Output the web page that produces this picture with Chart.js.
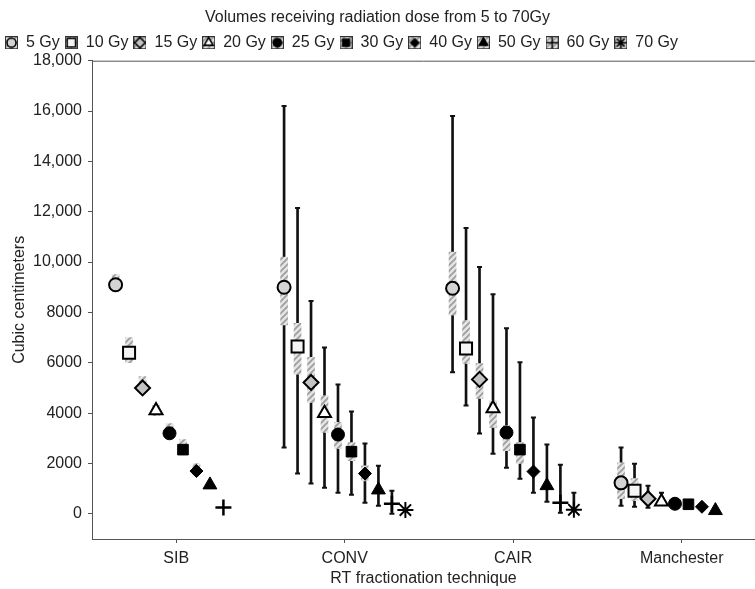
<!DOCTYPE html>
<html>
<head>
<meta charset="utf-8">
<script src="https://cdn.jsdelivr.net/npm/chart.js@4.4.0/dist/chart.umd.min.js"></script>
<style>
  html, body { margin: 0; padding: 0; background: #fff; }
  #wrap { width: 755px; height: 589px; }
</style>
</head>
<body>
<div id="wrap"><canvas id="dose-volume-chart"></canvas></div>
<script>
const techniques = ['SIB', 'CONV', 'CAIR', 'Manchester']
const doses = ['5 Gy', '10 Gy', '15 Gy', '20 Gy', '25 Gy', '30 Gy', '40 Gy', '50 Gy', '60 Gy', '70 Gy']
const yTicks = [0, 2000, 4000, 6000, 8000, 10000, 12000, 14000, 16000, 18000]

// mean volume (cc) per dose level
const sibMean = [9100, 6400, 5000, 4100, 3200, 2550, 1700, 1150, 250, null]
const convMean = [9000, 6650, 5220, 4000, 3150, 2470, 1600, 950, 400, 150]
const cairMean = [8960, 6570, 5340, 4180, 3230, 2550, 1680, 1120, 440, 160]
const manMean = [1230, 920, 600, 480, 400, 380, 280, 130, null, null]

// hatched box (confidence interval)
const sibBoxLow = [8950, 6000, 4800, 3900, 3000, 2400, 1550, null, null, null]
const sibBoxHigh = [9500, 7000, 5450, 4300, 3580, 2950, 2000, null, null, null]
const convBoxLow = [7500, 5540, 4420, 3230, 2590, 2110, 1310, null, null, null]
const convBoxHigh = [10200, 7570, 6220, 4700, 3630, 2830, 1910, null, null, null]
const cairBoxLow = [7890, 5970, 4580, 3430, 2510, 1990, null, null, null, null]
const cairBoxHigh = [10400, 7690, 5970, 4500, 3510, 2830, null, null, null, null]
const manBoxLow = [600, 520, null, null, null, null, null, null, null, null]
const manBoxHigh = [2030, 1400, null, null, null, null, null, null, null, null]

// whiskers (range)
const sibWhiskLow = [null, null, null, null, null, null, null, null, null, null]
const sibWhiskHigh = [null, null, null, null, null, null, null, null, null, null]
const convWhiskLow = [2630, 1600, 1200, 1040, 840, 760, 440, 320, 0, null]
const convWhiskHigh = [16200, 12150, 8450, 6610, 5140, 4060, 2790, 1910, 920, null]
const cairWhiskLow = [5620, 4300, 3190, 2390, 1830, 1390, 840, 480, 40, 160]
const cairWhiskHigh = [15800, 11350, 9800, 8720, 7370, 6020, 3830, 2750, 1950, 840]
const manWhiskLow = [320, 280, 240, 480, null, null, null, null, null, null]
const manWhiskHigh = [2630, 1990, 1120, 840, null, null, null, null, null, null]

const means = [sibMean, convMean, cairMean, manMean]
const boxLows = [sibBoxLow, convBoxLow, cairBoxLow, manBoxLow]
const boxHighs = [sibBoxHigh, convBoxHigh, cairBoxHigh, manBoxHigh]
const whiskLows = [sibWhiskLow, convWhiskLow, cairWhiskLow, manWhiskLow]
const whiskHighs = [sibWhiskHigh, convWhiskHigh, cairWhiskHigh, manWhiskHigh]

const markerStyles = [
  { pointStyle: 'circle', radius: 6.5, fill: '#d4d4d4', border: 2 },
  { pointStyle: 'rect', radius: 8.5, fill: '#f4f4f4', border: 2 },
  { pointStyle: 'rectRot', radius: 7.5, fill: '#c4c4c4', border: 2 },
  { pointStyle: 'triangle', radius: 7.5, fill: '#ffffff', border: 2 },
  { pointStyle: 'circle', radius: 6.5, fill: '#000000', border: 1 },
  { pointStyle: 'rect', radius: 7.5, fill: '#000000', border: 1 },
  { pointStyle: 'rectRot', radius: 6.5, fill: '#000000', border: 1 },
  { pointStyle: 'triangle', radius: 8, fill: '#000000', border: 1 },
  { pointStyle: 'cross', radius: 8, fill: '#000000', border: 2.5 },
  { pointStyle: 'star', radius: 8, fill: '#000000', border: 2 }
]

const FONT = 'Liberation Sans, Arial, sans-serif'
const TEXT = '#222'

const offsetOf = i => (i - (doses.length - 1) / 2) * 0.08

function makeHatch () {
  const c = document.createElement('canvas')
  c.width = 6
  c.height = 6
  const g = c.getContext('2d')
  g.fillStyle = '#e4e4e4'
  g.fillRect(0, 0, 6, 6)
  g.strokeStyle = '#9c9c9c'
  g.lineWidth = 1.6
  g.beginPath()
  g.moveTo(-1, 7); g.lineTo(7, -1)
  g.moveTo(-4, 4); g.lineTo(4, -4)
  g.moveTo(2, 10); g.lineTo(10, 2)
  g.stroke()
  return g.createPattern(c, 'repeat')
}
const hatch = makeHatch()

function makeLegendIcon (s) {
  const c = document.createElement('canvas')
  c.width = 13
  c.height = 13
  const g = c.getContext('2d')
  g.fillStyle = hatch
  g.fillRect(0, 0, 13, 13)
  g.strokeStyle = '#333'
  g.lineWidth = 1
  g.strokeRect(0.5, 0.5, 12, 12)
  g.fillStyle = s.fill
  g.strokeStyle = '#000'
  g.lineWidth = Math.min(s.border, 1.6)
  Chart.helpers.drawPoint(g, { pointStyle: s.pointStyle, radius: s.radius * 0.7, rotation: 0, borderWidth: g.lineWidth }, 6.5, 6.5)
  return c
}
const legendIcons = markerStyles.map(makeLegendIcon)

const markerSets = doses.map((dose, i) => {
  const s = markerStyles[i]
  return {
    type: 'scatter',
    label: dose,
    order: 0,
    data: means.map((row, t) => row[i] === null ? null : { x: t + 1 + offsetOf(i), y: row[i] }).filter(Boolean),
    pointStyle: s.pointStyle,
    pointRadius: s.radius,
    pointHoverRadius: s.radius,
    pointBackgroundColor: s.fill,
    pointBorderColor: '#000',
    pointBorderWidth: s.border
  }
})

const rangeData = (lows, highs) => {
  const out = []
  lows.forEach((row, t) => {
    row.forEach((lo, i) => {
      const hi = highs[t][i]
      if (lo !== null && hi !== null) out.push({ x: t + 1 + offsetOf(i), y: [lo, hi] })
    })
  })
  return out
}

const whiskerData = rangeData(whiskLows, whiskHighs)
const capData = []
whiskerData.forEach(d => {
  capData.push({ x: d.x, y: d.y[0] })
  capData.push({ x: d.x, y: d.y[1] })
})

const topBorder = {
  id: 'topBorder',
  afterDraw (chart) {
    const { ctx, chartArea } = chart
    ctx.save()
    ctx.strokeStyle = '#555'
    ctx.lineWidth = 1
    ctx.beginPath()
    ctx.moveTo(chartArea.left, chartArea.top + 0.5)
    ctx.lineTo(chartArea.right, chartArea.top + 0.5)
    ctx.stroke()
    ctx.restore()
  }
}

const chart = new Chart(document.getElementById('dose-volume-chart').getContext('2d'), {
  type: 'scatter',
  data: {
    datasets: [
      ...markerSets,
      {
        type: 'bar',
        label: 'box',
        order: 1,
        grouped: false,
        barThickness: 7,
        backgroundColor: hatch,
        borderWidth: 0,
        data: rangeData(boxLows, boxHighs)
      },
      {
        type: 'scatter',
        label: 'caps',
        order: 2,
        pointStyle: 'line',
        pointRadius: 2.5,
        pointBorderColor: '#111',
        pointBorderWidth: 2,
        data: capData
      },
      {
        type: 'bar',
        label: 'whisker',
        order: 3,
        grouped: false,
        barThickness: 2,
        backgroundColor: '#111',
        borderWidth: 0,
        data: whiskerData
      }
    ]
  },
  options: {
    responsive: true,
    maintainAspectRatio: false,
    animation: false,
    layout: { autoPadding: false, padding: 0 },
    plugins: {
      tooltip: { enabled: false },
      title: {
        display: true,
        text: 'Volumes receiving radiation dose from 5 to 70Gy',
        color: TEXT,
        font: { family: FONT, size: 16, weight: 'normal' },
        padding: { top: 8, bottom: 2.5 }
      },
      legend: {
        position: 'top',
        align: 'start',
        labels: {
          usePointStyle: true,
          pointStyleWidth: 13,
          padding: 5,
          color: TEXT,
          font: { family: FONT, size: 16 },
          generateLabels: () => doses.map((d, i) => ({
            text: d,
            pointStyle: legendIcons[i],
            datasetIndex: i,
            hidden: false,
            lineWidth: 0,
            fontColor: TEXT
          }))
        },
        onClick: () => {}
      }
    },
    scales: {
      x: {
        type: 'linear',
        min: 0.5,
        max: 4.435,
        offset: false,
        afterFit: scale => {
          scale.height = 50
          scale.paddingLeft = 0
          scale.paddingRight = 0
        },
        afterBuildTicks: scale => { scale.ticks = techniques.map((t, i) => ({ value: i + 1 })) },
        ticks: {
          callback: v => techniques[v - 1],
          color: TEXT,
          padding: 6,
          maxRotation: 0,
          font: { family: FONT, size: 16 }
        },
        grid: { offset: false, drawOnChartArea: false, tickLength: 4, color: '#555' },
        border: { color: '#555', width: 1 },
        title: {
          display: true,
          text: 'RT fractionation technique',
          color: TEXT,
          font: { family: FONT, size: 16 },
          padding: { top: 4, bottom: 1 }
        }
      },
      y: {
        min: -1000,
        max: 18000,
        afterFit: scale => { scale.width = 92 },
        afterBuildTicks: scale => { scale.ticks = yTicks.map(v => ({ value: v })) },
        ticks: {
          callback: v => v >= 10000 ? v.toLocaleString('en-US') : String(v),
          color: TEXT,
          padding: 6,
          font: { family: FONT, size: 16 }
        },
        grid: { drawOnChartArea: false, tickLength: 4, color: '#555' },
        border: { color: '#555', width: 1 },
        title: {
          display: true,
          text: 'Cubic centimeters',
          color: TEXT,
          font: { family: FONT, size: 16 },
          padding: 10
        }
      }
    }
  },
  plugins: [topBorder]
})
</script>
</body>
</html>
